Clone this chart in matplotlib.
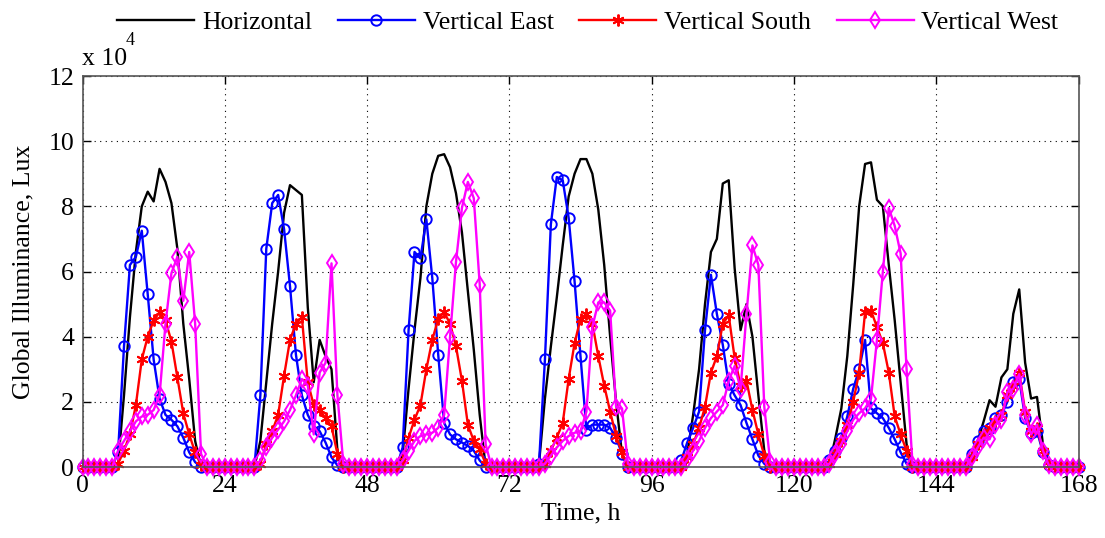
import matplotlib
matplotlib.use("Agg")
import matplotlib.pyplot as plt
import numpy as np

# Global illuminance (x 10^4 lux), hourly, 7 days, hours 0..168
horizontal = [
    [0,0,0,0,0,0,0.1,2.2,4.6,6.6,8.0,8.45,8.15,9.15,8.75,8.1,6.7,4.4,2.7,0.8,0,0,0,0],
    [0,0,0,0,0,0,0.8,2.6,4.4,6.0,7.8,8.65,8.5,8.35,4.9,2.6,3.9,3.4,3.0,0.5,0,0,0,0],
    [0,0,0,0,0,0,0.4,2.4,4.2,5.8,8.0,9.0,9.55,9.6,9.2,8.4,7.2,5.4,3.6,1.6,0,0,0,0],
    [0,0,0,0,0,0.1,2.1,3.7,5.2,6.8,8.3,9.0,9.45,9.45,9.0,7.9,6.2,4.0,2.0,0.4,0,0,0,0],
    [0,0,0,0,0,0,0.4,1.6,3.0,5.0,6.6,7.0,8.7,8.8,6.1,4.2,5.0,4.0,2.2,0.5,0,0,0,0],
    [0,0,0,0,0,0,0.1,0.9,1.8,3.4,5.6,8.0,9.3,9.35,8.2,8.0,6.2,4.5,2.6,0.7,0,0,0,0],
    [0,0,0,0,0,0,0.3,0.8,1.4,2.05,1.85,2.75,3.0,4.7,5.45,3.2,2.1,2.15,0.7,0.1,0,0,0,0],
    [0],
]
vertical_east = [
    [0,0,0,0,0,0,0.45,3.7,6.2,6.45,7.25,5.3,3.3,2.1,1.6,1.45,1.25,0.9,0.45,0.15,0,0,0,0],
    [0,0,0,0,0,0,2.2,6.7,8.1,8.35,7.3,5.55,3.45,2.2,1.6,1.25,1.1,0.75,0.3,0.05,0,0,0,0],
    [0,0,0,0,0,0,0.6,4.2,6.6,6.4,7.6,5.8,3.45,1.35,1.0,0.85,0.75,0.65,0.5,0.2,0,0,0,0],
    [0,0,0,0,0,0.1,3.3,7.45,8.9,8.8,7.65,5.7,3.4,1.15,1.3,1.3,1.3,1.2,0.9,0.4,0,0,0,0],
    [0,0,0,0,0,0.2,0.75,1.2,1.7,4.2,5.9,4.7,3.75,2.55,2.2,1.9,1.35,0.85,0.35,0.1,0,0,0,0],
    [0,0,0,0,0,0,0.2,0.5,0.9,1.55,2.4,3.0,3.9,1.8,1.65,1.5,1.2,0.85,0.45,0.1,0,0,0,0],
    [0,0,0,0,0,0,0.4,0.8,1.1,1.2,1.5,1.6,2.0,2.6,2.7,1.5,1.05,1.1,0.45,0.05,0,0,0,0],
    [0],
]
vertical_south = [
    [0,0,0,0,0,0,0.1,0.5,1.0,1.9,3.3,4.0,4.5,4.75,4.5,3.85,2.75,1.65,1.0,0.45,0.05,0,0,0],
    [0,0,0,0,0,0,0.1,0.7,1.1,1.6,2.8,3.9,4.4,4.6,2.6,1.9,1.75,1.5,1.25,0.4,0,0,0,0],
    [0,0,0,0,0,0,0.2,0.9,1.45,1.9,3.0,3.9,4.55,4.75,4.4,3.7,2.65,1.3,0.8,0.55,0.1,0,0,0],
    [0,0,0,0,0,0,0.1,0.5,0.9,1.35,2.7,3.8,4.55,4.7,4.4,3.4,2.5,1.7,0.95,0.45,0,0,0,0],
    [0,0,0,0,0,0,0.3,0.7,1.2,1.85,2.9,3.4,4.4,4.65,3.35,2.5,2.65,1.75,1.0,0.35,0,0,0,0],
    [0,0,0,0,0,0,0.1,0.4,0.8,1.3,2.0,2.9,4.75,4.8,4.3,3.8,2.9,1.55,1.0,0.5,0,0,0,0],
    [0,0,0,0,0,0,0.3,0.7,1.0,1.2,1.4,1.6,2.2,2.5,2.9,1.7,1.1,1.2,0.5,0.05,0,0,0,0],
    [0],
]
vertical_west = [
    [0,0,0,0,0,0,0.5,0.8,1.1,1.4,1.55,1.6,1.75,2.2,4.4,5.95,6.45,5.1,6.6,4.4,0.4,0,0,0],
    [0,0,0,0,0,0,0.2,0.6,0.9,1.15,1.4,1.75,2.2,2.7,2.5,1.0,2.9,3.2,6.25,2.2,0.1,0,0,0],
    [0,0,0,0,0,0,0.2,0.5,0.8,0.95,1.0,1.05,1.2,1.6,4.0,6.3,7.95,8.75,8.25,5.6,0.7,0,0,0],
    [0,0,0,0,0,0,0.1,0.35,0.6,0.8,0.95,1.05,1.1,1.7,4.3,5.05,5.05,4.8,1.85,1.8,0.1,0,0,0],
    [0,0,0,0,0,0,0.2,0.5,0.8,1.2,1.5,1.7,1.9,2.65,3.1,2.4,4.7,6.8,6.2,1.85,0.15,0,0,0],
    [0,0,0,0,0,0,0.1,0.4,0.7,1.1,1.45,1.65,1.8,2.1,3.9,6.0,7.95,7.4,6.55,3.0,0.1,0,0,0],
    [0,0,0,0,0,0,0.3,0.6,0.9,0.85,1.3,1.45,2.3,2.4,2.85,1.6,1.0,1.3,0.5,0.05,0,0,0,0],
    [0],
]
x_ticks = [0, 24, 48, 72, 96, 120, 144, 168]
y_ticks = [0, 2, 4, 6, 8, 10, 12]
labels = ["Horizontal", "Vertical East", "Vertical South", "Vertical West"]

def flat(rows):
    return np.array([v for r in rows for v in r], dtype=float)

series = [flat(horizontal), flat(vertical_east), flat(vertical_south), flat(vertical_west)]
hours = np.arange(len(series[0]))

plt.rcParams['font.family'] = ['Liberation Serif', 'DejaVu Serif']
FS = 18.5

fig = plt.figure(figsize=(11.05, 5.38), dpi=100)
ax = fig.add_axes([82.5/1105, 1-467/538, 996/1105, 391/538])

styles = [
    dict(color='black', marker=None),
    dict(color='#0000FF', marker='o', markersize=7.5, markerfacecolor='none', markeredgewidth=1.4),
    dict(color='#FF0000', marker=(6, 2, 0), markersize=8.5, markeredgewidth=1.4),
    dict(color='#FF00FF', marker='d', markersize=8.5, markerfacecolor='none', markeredgewidth=1.4),
]
handles = []
for s, lab, st in zip(series, labels, styles):
    h, = ax.plot(hours, s, linewidth=1.7, label=lab, clip_on=False, **st)
    handles.append(h)

ax.set_xlim(0, 168)
ax.set_ylim(0, 12)
ax.set_xticks(x_ticks)
ax.set_yticks(y_ticks)
ax.grid(True, linestyle=(0, (1, 4)), color='black', linewidth=0.8)
ax.tick_params(direction='in', length=6, width=1, top=True, right=True,
               labelsize=FS, colors='black', pad=6)
for sp in ax.spines.values():
    sp.set_color('#555555')
    sp.set_linewidth(1.2)

ax.set_xlabel("Time, h", fontsize=FS, labelpad=4)
ax.set_ylabel("Global Illuminance, Lux", fontsize=FS, labelpad=10)

ax.text(0.0, 1.015, "x 10", transform=ax.transAxes, fontsize=FS, ha='left', va='bottom')
ax.text(0.043, 1.07, "4", transform=ax.transAxes, fontsize=FS*0.7, ha='left', va='bottom')

fig.legend(handles=handles, loc='center', bbox_to_anchor=(0.532, 0.958), ncol=4,
           frameon=False, fontsize=FS, handlelength=3.0, handletextpad=0.3,
           columnspacing=1.0, numpoints=1)

fig.savefig("out.png", dpi=100)
